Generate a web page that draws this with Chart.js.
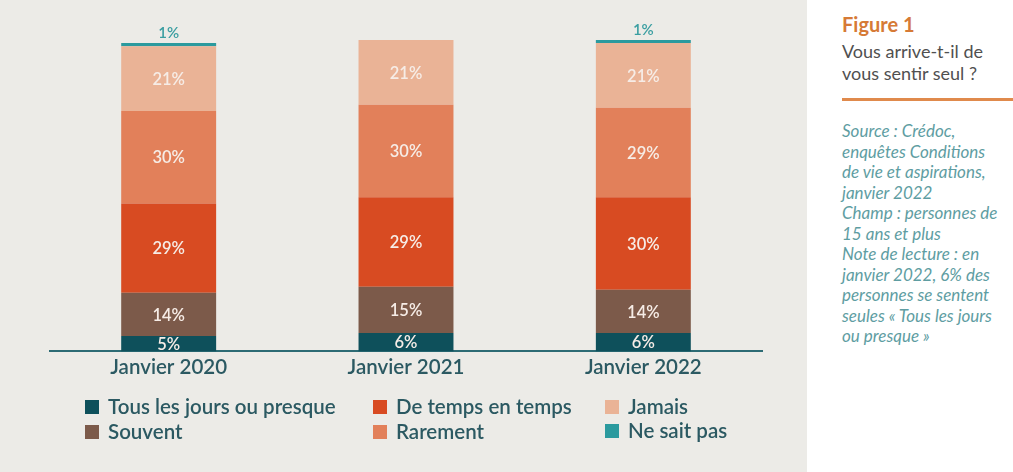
<!DOCTYPE html>
<html>
<head>
<meta charset="utf-8">
<script src="https://cdn.jsdelivr.net/npm/chart.js@4/dist/chart.umd.min.js"></script>
<style>
  html, body { margin:0; padding:0; background:#ffffff; }
  body { width:1013px; height:472px; position:relative; overflow:hidden; font-family:Lato, "Open Sans", sans-serif; }
  #panel { position:absolute; left:0; top:0; width:807px; height:472px; background:#ecebe7; }
  #wrap { position:absolute; left:0; top:0; width:807px; height:384px; }
  #legend { position:absolute; left:0; top:0; width:807px; height:472px; pointer-events:none; }
  .li { position:absolute; height:16px; }
  .sw { position:absolute; left:0; top:1px; width:14px; height:14px; }
  .lt { position:absolute; left:23px; top:-5px; white-space:nowrap; font-size:20.5px; font-weight:600; line-height:25px; color:#2b5962; }
  #side { position:absolute; left:842px; top:0; width:171px; }
  .fig { position:absolute; left:0; top:12px; font-size:20px; font-weight:bold; color:#d67a36; white-space:nowrap; }
  .q { position:absolute; left:0; top:40px; font-size:18px; line-height:22px; color:#505050; white-space:nowrap; }
  .rule { position:absolute; left:0; top:98px; width:171px; height:3px; background:#e08a4c; }
  .note { position:absolute; left:0; top:121px; font-size:17px; line-height:20.5px; font-style:italic; font-weight:400; color:#5e9da2; white-space:nowrap; }
</style>
</head>
<body>
<div id="panel"></div>
<div id="wrap"><canvas id="c"></canvas></div>
<div id="legend"></div>
<div id="side">
  <div class="fig">Figure 1</div>
  <div class="q">Vous arrive-t-il de<br>vous sentir seul ?</div>
  <div class="rule"></div>
  <div class="note">Source : Crédoc,<br>enquêtes Conditions<br>de vie et aspirations,<br>janvier 2022<br>Champ : personnes de<br>15 ans et plus<br>Note de lecture : en<br>janvier 2022, 6% des<br>personnes se sentent<br>seules « Tous les jours<br>ou presque »</div>
</div>
<script>
const categories = ["Janvier 2020", "Janvier 2021", "Janvier 2022"];
const tousLesJours = [5, 6, 6];
const souvent = [14, 15, 14];
const deTempsEnTemps = [29, 29, 30];
const rarement = [30, 30, 29];
const jamais = [21, 21, 21];
const neSaitPas = [1, 0, 1];
const seriesNames = ["Tous les jours ou presque", "Souvent", "De temps en temps", "Rarement", "Jamais", "Ne sait pas"];
const seriesColors = ["#0e505b", "#7c5a4a", "#d84b22", "#e2805a", "#eab396", "#2b9a9e"];
const seriesValues = [tousLesJours, souvent, deTempsEnTemps, rarement, jamais, neSaitPas];

const datasets = seriesNames.map((n, i) => ({
  label: n,
  data: seriesValues[i],
  backgroundColor: seriesColors[i],
  borderWidth: 0,
  barPercentage: 0.4,
  categoryPercentage: 1.0
}));

const labelPlugin = {
  id: 'barLabels',
  afterDatasetsDraw(chart) {
    const ctx = chart.ctx;
    ctx.save();
    ctx.textAlign = 'center';
    ctx.textBaseline = 'middle';
    chart.data.datasets.forEach((ds, di) => {
      const meta = chart.getDatasetMeta(di);
      meta.data.forEach((el, j) => {
        const v = ds.data[j];
        if (!v) return;
        const p = el.getProps(['x', 'y', 'base'], true);
        if (di === chart.data.datasets.length - 1) {
          ctx.font = '600 15px Lato, sans-serif';
          ctx.fillStyle = '#3a9ea1';
          ctx.fillText(v + '%', p.x, p.y - 10);
        } else {
          ctx.font = '600 16.5px Lato, sans-serif';
          ctx.fillStyle = '#f6ece6';
          ctx.fillText(v + '%', p.x, (p.y + p.base) / 2 + 1);
        }
      });
    });
    ctx.restore();
  }
};

const chart = new Chart(document.getElementById('c'), {
  type: 'bar',
  data: { labels: categories, datasets },
  options: {
    responsive: true,
    maintainAspectRatio: false,
    animation: false,
    layout: { padding: { left: 50, right: 45, top: 40, bottom: 0 } },
    plugins: { legend: { display: false }, tooltip: { enabled: false } },
    scales: {
      x: {
        stacked: true,
        grid: { display: false, drawTicks: false },
        border: { display: true, color: '#2d6b74', width: 2 },
        ticks: { color: '#2b5962', font: { family: 'Lato', size: 20.5, weight: '600' }, padding: 4 }
      },
      y: {
        stacked: true,
        display: false,
        min: 0,
        max: 101
      }
    }
  },
  plugins: [labelPlugin]
});

// HTML legend built from the datasets
const legendPos = [[85, 400], [85, 425], [373, 400], [373, 425], [605, 400], [605, 424]];
const lg = document.getElementById('legend');
chart.data.datasets.forEach((ds, i) => {
  const d = document.createElement('div');
  d.className = 'li';
  d.style.left = legendPos[i][0] + 'px';
  d.style.top = (legendPos[i][1] - 1) + 'px';
  d.innerHTML = '<div class="sw" style="background:' + ds.backgroundColor + '"></div><div class="lt">' + ds.label + '</div>';
  lg.appendChild(d);
});
</script>
</body>
</html>
